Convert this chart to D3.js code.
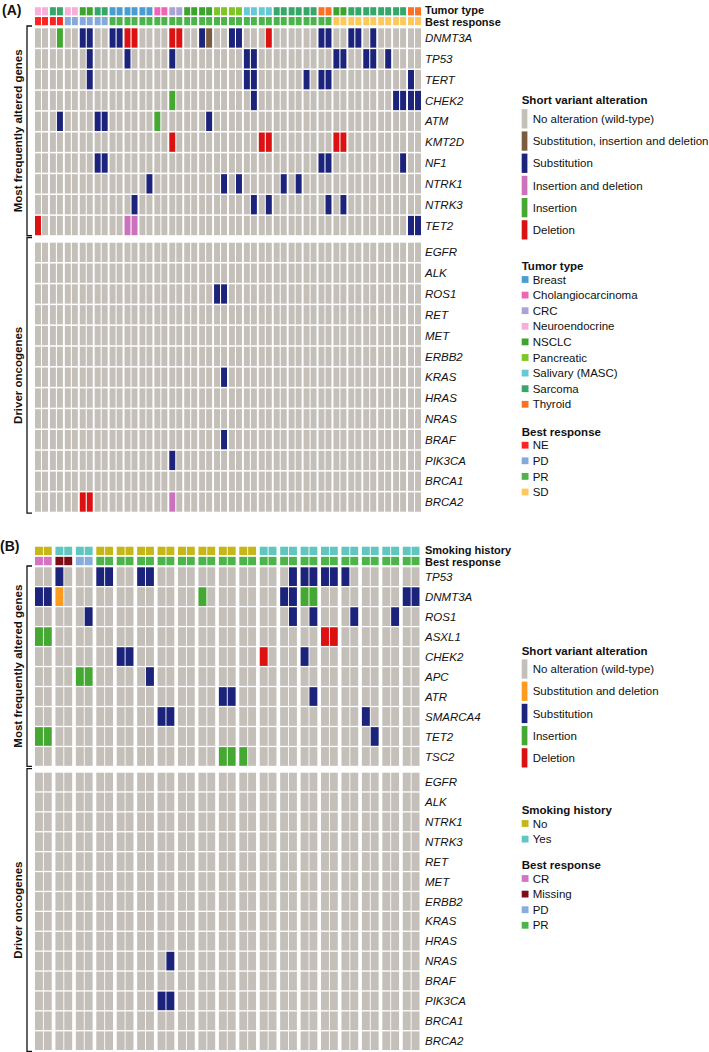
<!DOCTYPE html>
<html><head><meta charset="utf-8">
<script src="https://cdn.jsdelivr.net/npm/d3@7"></script>
<style>
body{margin:0;background:#fff}
text{font-family:"Liberation Sans",Arial,Helvetica,sans-serif;fill:#111}
</style>
</head><body>
<svg id="chart" width="709" height="1052"></svg>
<script>
// ---------------- DATA ----------------
// Panel A
const genesA = ["DNMT3A","TP53","TERT","CHEK2","ATM","KMT2D","NF1","NTRK1","NTRK3","TET2"];
const driversA = ["EGFR","ALK","ROS1","RET","MET","ERBB2","KRAS","HRAS","NRAS","BRAF","PIK3CA","BRCA1","BRCA2"];
const tumorTypeA = ["Neuroendocrine","Sarcoma","Neuroendocrine","NSCLC","Sarcoma","Breast","Breast","Breast",
  "Cholangiocarcinoma","CRC","NSCLC","NSCLC","Pancreatic","Pancreatic","Salivary (MASC)","Salivary (MASC)",
  "Sarcoma","Sarcoma","Sarcoma","Thyroid","NSCLC","Sarcoma","Sarcoma","Sarcoma","Sarcoma","Thyroid"];
const responseA = ["NE","NE","PD","PD","PD","PR","PR","PR","PR","PR","PR","PR","PR","PR","PR","PR","PR","PR","PR","PR",
  "SD","SD","SD","SD","SD","SD"];
// [gene, sample column, alteration]  S=Substitution I=Insertion D=Deletion X=Insertion and deletion M=Substitution, insertion and deletion
const eventsA = [
  ["DNMT3A",3,"I"],["DNMT3A",6,"S"],["DNMT3A",7,"S"],["DNMT3A",10,"S"],["DNMT3A",11,"S"],["DNMT3A",12,"D"],["DNMT3A",13,"D"],
  ["DNMT3A",18,"D"],["DNMT3A",19,"D"],["DNMT3A",22,"S"],["DNMT3A",23,"M"],["DNMT3A",26,"S"],["DNMT3A",27,"S"],["DNMT3A",31,"D"],
  ["DNMT3A",38,"S"],["DNMT3A",39,"S"],["DNMT3A",42,"S"],["DNMT3A",43,"S"],["DNMT3A",45,"S"],
  ["TP53",7,"S"],["TP53",12,"S"],["TP53",18,"S"],["TP53",28,"S"],["TP53",29,"S"],["TP53",40,"S"],["TP53",41,"S"],
  ["TP53",44,"S"],["TP53",45,"S"],["TP53",47,"S"],
  ["TERT",7,"S"],["TERT",28,"S"],["TERT",29,"S"],["TERT",36,"S"],["TERT",38,"S"],["TERT",39,"S"],["TERT",50,"S"],
  ["CHEK2",18,"I"],["CHEK2",29,"S"],["CHEK2",48,"S"],["CHEK2",49,"S"],["CHEK2",50,"S"],["CHEK2",51,"S"],
  ["ATM",3,"S"],["ATM",8,"S"],["ATM",9,"S"],["ATM",16,"I"],["ATM",23,"S"],
  ["KMT2D",18,"D"],["KMT2D",30,"D"],["KMT2D",31,"D"],["KMT2D",40,"D"],["KMT2D",41,"D"],
  ["NF1",8,"S"],["NF1",9,"S"],["NF1",38,"S"],["NF1",39,"S"],["NF1",49,"S"],
  ["NTRK1",15,"S"],["NTRK1",25,"S"],["NTRK1",27,"S"],["NTRK1",33,"S"],["NTRK1",35,"S"],
  ["NTRK3",13,"S"],["NTRK3",29,"S"],["NTRK3",31,"S"],["NTRK3",39,"S"],["NTRK3",41,"S"],
  ["TET2",0,"D"],["TET2",12,"X"],["TET2",13,"X"],["TET2",50,"S"],["TET2",51,"S"],
  ["ROS1",24,"S"],["ROS1",25,"S"],["KRAS",25,"S"],["BRAF",25,"S"],["PIK3CA",18,"S"],
  ["BRCA2",6,"D"],["BRCA2",7,"D"],["BRCA2",18,"X"]
];
// Panel B
const genesB = ["TP53","DNMT3A","ROS1","ASXL1","CHEK2","APC","ATR","SMARCA4","TET2","TSC2"];
const driversB = ["EGFR","ALK","NTRK1","NTRK3","RET","MET","ERBB2","KRAS","HRAS","NRAS","BRAF","PIK3CA","BRCA1","BRCA2"];
const smokingB = ["No","Yes","Yes","No","No","No","No","No","No","No","No","Yes","Yes","Yes","Yes","Yes","Yes","Yes","Yes"];
const responseB = ["CR","Missing","PD","PR","PR","PR","PR","PR","PR","PR","PR","PR","PR","PR","PR","PR","PR","PR","PR"];
// O = Substitution and deletion
const eventsB = [
  ["TP53",2,"S"],["TP53",6,"S"],["TP53",7,"S"],["TP53",10,"S"],["TP53",11,"S"],["TP53",25,"S"],["TP53",26,"S"],["TP53",27,"S"],
  ["TP53",28,"S"],["TP53",29,"S"],["TP53",30,"S"],
  ["DNMT3A",0,"S"],["DNMT3A",1,"S"],["DNMT3A",2,"O"],["DNMT3A",16,"I"],["DNMT3A",24,"S"],["DNMT3A",25,"S"],
  ["DNMT3A",26,"I"],["DNMT3A",27,"I"],["DNMT3A",36,"S"],["DNMT3A",37,"S"],
  ["ROS1",5,"S"],["ROS1",25,"S"],["ROS1",27,"S"],["ROS1",31,"S"],["ROS1",35,"S"],
  ["ASXL1",0,"I"],["ASXL1",1,"I"],["ASXL1",28,"D"],["ASXL1",29,"D"],
  ["CHEK2",8,"S"],["CHEK2",9,"S"],["CHEK2",22,"D"],["CHEK2",26,"S"],
  ["APC",4,"I"],["APC",5,"I"],["APC",11,"S"],
  ["ATR",18,"S"],["ATR",19,"S"],["ATR",27,"S"],
  ["SMARCA4",12,"S"],["SMARCA4",13,"S"],["SMARCA4",32,"S"],
  ["TET2",0,"I"],["TET2",1,"I"],["TET2",33,"S"],
  ["TSC2",18,"I"],["TSC2",19,"I"],["TSC2",20,"I"],
  ["NRAS",13,"S"],["PIK3CA",12,"S"],["PIK3CA",13,"S"]
];
const altLegendA = ["W","M","S","X","I","D"];
const altLegendB = ["W","O","S","I","D"];
const tumorLevels = ["Breast","Cholangiocarcinoma","CRC","Neuroendocrine","NSCLC","Pancreatic","Salivary (MASC)","Sarcoma","Thyroid"];
const respLevelsA = ["NE","PD","PR","SD"];
const smokeLevels = ["No","Yes"];
const respLevelsB = ["CR","Missing","PD","PR"];

// ---------------- STYLE ----------------
const altNames = {W:"No alteration (wild-type)",M:"Substitution, insertion and deletion",O:"Substitution and deletion",
  S:"Substitution",X:"Insertion and deletion",I:"Insertion",D:"Deletion"};
const altColor = d3.scaleOrdinal().domain(["W","M","O","S","X","I","D"])
  .range(["#c4c0b9","#7b5c3e","#fd9a1f","#1b237b","#cc72bc","#44a832","#dc1212"]);
const tumorColor = d3.scaleOrdinal().domain(tumorLevels)
  .range(["#4a9dd0","#ee66b3","#aaa3d5","#f8aedb","#3ea22e","#7ec526","#68c9d6","#35a76b","#fb7025"]);
const respColorA = d3.scaleOrdinal().domain(respLevelsA).range(["#ff2222","#86a9d9","#4db34b","#fec85c"]);
const smokeColor = d3.scaleOrdinal().domain(smokeLevels).range(["#c7b61a","#62c6c0"]);
const respColorB = d3.scaleOrdinal().domain(respLevelsB).range(["#d573c3","#7c0d17","#88acdc","#4db34b"]);

const svg = d3.select("#chart");

function drawPanel(o) {
  const g = svg.append("g");
  const nPairs = o.tracks[0].values.length;
  const xPair = d3.scaleBand().domain(d3.range(nPairs)).range(o.xRange).paddingInner(o.pairPad);
  const xSub = d3.scaleBand().domain([0,1]).range([0, xPair.bandwidth()]).paddingInner(o.subPad);
  const colX = c => xPair(Math.floor(c / 2)) + xSub(c % 2);
  const cols = d3.range(nPairs * 2);
  const labelX = 425;

  // annotation tracks
  const yAnn = d3.scaleBand().domain(o.tracks.map(t => t.name)).range(o.annRange).paddingInner(0.17);
  o.tracks.forEach((t, i) => {
    g.append("g").selectAll("rect").data(cols).join("rect")
      .attr("x", c => colX(c)).attr("y", yAnn(t.name))
      .attr("width", xSub.bandwidth()).attr("height", yAnn.bandwidth())
      .attr("fill", c => t.color(t.values[Math.floor(c / 2)]));
    g.append("text").attr("x", labelX)
      .attr("y", yAnn(t.name) + yAnn.bandwidth() / 2 + (i === 0 ? -1.3 : 1.1))
      .attr("dy", "0.36em").attr("font-size", 11).attr("font-weight", "bold").text(t.name);
  });

  const lookup = new Map(o.events.map(e => [e[0] + "|" + e[1], e[2]]));
  o.groups.forEach(gr => {
    const y = d3.scaleBand().domain(gr.genes).range(gr.range).paddingInner(o.rowPad);
    const cells = gr.genes.flatMap(gene => cols.map(c => ({gene, c, t: lookup.get(gene + "|" + c) || "W"})));
    g.append("g").selectAll("rect").data(cells).join("rect")
      .attr("x", d => colX(d.c)).attr("y", d => y(d.gene))
      .attr("width", xSub.bandwidth()).attr("height", y.bandwidth())
      .attr("fill", d => altColor(d.t));
    g.append("g").selectAll("text").data(gr.genes).join("text")
      .attr("x", labelX).attr("y", d => y(d) + y.bandwidth() / 2).attr("dy", "0.36em")
      .attr("font-size", 11.5).attr("font-style", "italic").text(d => d);
    // bracket
    const top = gr.range[0] - gr.bracketPad[0], bot = gr.range[1] + gr.bracketPad[1];
    g.append("path").attr("d", `M32,${top}H27V${bot}H32`).attr("fill", "none")
      .attr("stroke", "#111").attr("stroke-width", 1.3);
    g.append("text").attr("transform", `translate(21.5,${(top + bot) / 2}) rotate(-90)`)
      .attr("text-anchor", "middle").attr("font-size", 11.5).attr("font-weight", "bold").text(gr.title);
  });

  g.append("text").attr("x", o.tagPos[0]).attr("y", o.tagPos[1]).attr("font-size", 14)
    .attr("font-weight", "bold").text(o.tag);
}

function legendBars(x, y0, title, keys, pitch) {
  const g = svg.append("g");
  g.append("text").attr("x", x).attr("y", y0).attr("dy", "0.36em").attr("font-size", 11.5)
    .attr("font-weight", "bold").text(title);
  const ys = d3.scalePoint().domain(keys).range([y0 + 18.5, y0 + 18.5 + pitch * (keys.length - 1)]);
  g.selectAll("rect").data(keys).join("rect")
    .attr("x", x).attr("y", k => ys(k) - 9.6).attr("width", 5.7).attr("height", 19.3)
    .attr("fill", k => altColor(k));
  g.selectAll("text.i").data(keys).join("text").attr("class", "i")
    .attr("x", x + 11).attr("y", k => ys(k)).attr("dy", "0.36em").attr("font-size", 11.5)
    .text(k => altNames[k]);
}

function legendSquares(x, y0, title, keys, color) {
  const g = svg.append("g");
  g.append("text").attr("x", x).attr("y", y0).attr("dy", "0.36em").attr("font-size", 11.5)
    .attr("font-weight", "bold").text(title);
  const ys = d3.scalePoint().domain(keys).range([y0 + 13.5, y0 + 13.5 + 15.6 * (keys.length - 1)]);
  g.selectAll("rect").data(keys).join("rect")
    .attr("x", x).attr("y", k => ys(k) - 3.4).attr("width", 6.8).attr("height", 6.8)
    .attr("fill", k => color(k));
  g.selectAll("text.i").data(keys).join("text").attr("class", "i")
    .attr("x", x + 11).attr("y", k => ys(k)).attr("dy", "0.36em").attr("font-size", 11.5)
    .text(k => k);
}

// ---------------- PANEL A ----------------
drawPanel({
  tag: "(A)", tagPos: [2, 15],
  xRange: [35, 421], pairPad: 0.13, subPad: 0.15, rowPad: 0.072,
  annRange: [7.2, 25.2],
  tracks: [
    {name: "Tumor type", values: tumorTypeA, color: tumorColor},
    {name: "Best response", values: responseA, color: respColorA}
  ],
  events: eventsA,
  groups: [
    {genes: genesA, range: [28.3, 235.2], title: "Most frequently altered genes", bracketPad: [2.3, 0.5]},
    {genes: driversA, range: [242.7, 511.7], title: "Driver oncogenes", bracketPad: [5.2, 1.5]}
  ]
});
legendBars(521.7, 100.3, "Short variant alteration", altLegendA, 22.2);
legendSquares(521.7, 266, "Tumor type", tumorLevels, tumorColor);
legendSquares(521.7, 431.7, "Best response", respLevelsA, respColorA);

// ---------------- PANEL B ----------------
drawPanel({
  tag: "(B)", tagPos: [0, 551],
  xRange: [35, 419.5], pairPad: 0.18, subPad: 0.1, rowPad: 0.065,
  annRange: [546.7, 565.2],
  tracks: [
    {name: "Smoking history", values: smokingB, color: smokeColor},
    {name: "Best response", values: responseB, color: respColorB}
  ],
  events: eventsB,
  groups: [
    {genes: genesB, range: [567.3, 765.8], title: "Most frequently altered genes", bracketPad: [1.3, 0.5]},
    {genes: driversB, range: [772.7, 1050], title: "Driver oncogenes", bracketPad: [4, 1.5]}
  ]
});
legendBars(521.7, 650.5, "Short variant alteration", altLegendB, 22.2);
legendSquares(521.7, 810, "Smoking history", smokeLevels, smokeColor);
legendSquares(521.7, 865, "Best response", respLevelsB, respColorB);
</script>
</body></html>
